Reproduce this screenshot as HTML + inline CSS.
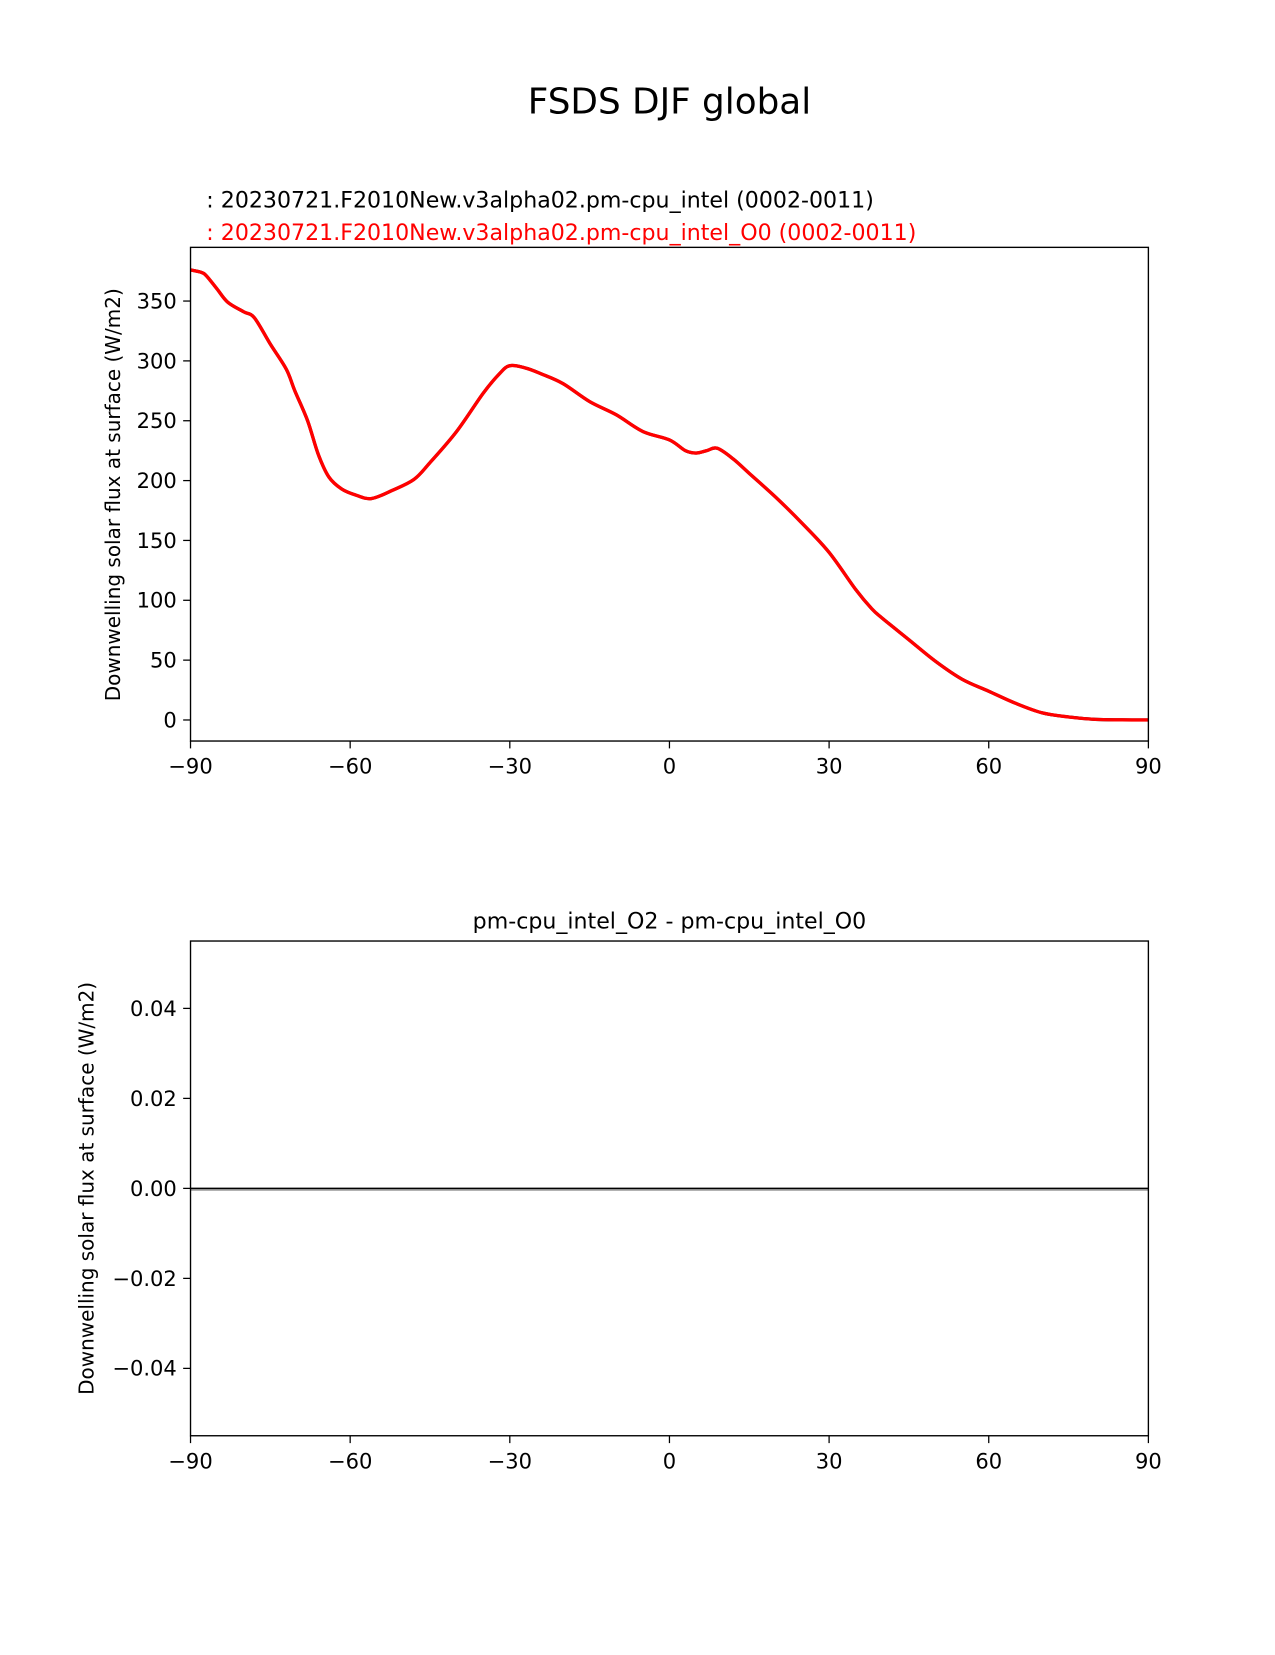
<!DOCTYPE html>
<html><head><meta charset="utf-8"><style>
body{margin:0;background:#fff}
svg text{font-family:"DejaVu Sans","Liberation Sans",sans-serif}
</style></head><body>
<svg id="fig" width="1275" height="1650" viewBox="0 0 1275 1650" xmlns="http://www.w3.org/2000/svg">
<rect width="1275" height="1650" fill="#fff"/>
<g transform="scale(1.0526)">
<text x="636" y="108" font-size="34" text-anchor="middle">FSDS DJF global</text>
<text x="196" y="197" font-size="21">: 20230721.F2010New.v3alpha02.pm-cpu_intel (0002-0011)</text>
<text x="196" y="228" font-size="21" fill="#ff0000">: 20230721.F2010New.v3alpha02.pm-cpu_intel_O0 (0002-0011)</text>
<text x="636" y="882" font-size="21" text-anchor="middle">pm-cpu_intel_O2 - pm-cpu_intel_O0</text>
<text transform="translate(114,470) rotate(-90)" font-size="19" text-anchor="middle">Downwelling solar flux at surface (W/m2)</text>
<text transform="translate(89,1129) rotate(-90)" font-size="19" text-anchor="middle">Downwelling solar flux at surface (W/m2)</text>
<g id="top"></g>
<g id="bot"></g>
</g>
</svg>
<script>
const lats=[-90,-88,-87,-85,-83,-80,-78,-75,-72,-70.4,-68,-66,-64,-61.6,-59,-56,-52,-48,-45,-40,-35,-32,-30,-27,-24,-20,-15,-10,-5,0,3,5,7,9,12,15,20,25,30,35,38,40,45,50,55,60,65,70,75,80,85,90];
const fsds=[376,374,371,360,349,341,336,314,293,275,250,222,203,193,188,185,192,201,215,241,273,289,296,294,289,281,266,255,241,234,225,223,225,227,218,206,186,164,140,109,93,85,67,49,34,24,14,6,2.5,0.5,0.1,0];
const diff=lats.map(()=>0);
const xTicks=[-90,-60,-30,0,30,60,90];
const yTicksTop=[0,50,100,150,200,250,300,350];
const yTicksBot=[-0.04,-0.02,0,0.02,0.04];
const NS="http://www.w3.org/2000/svg";
function mk(p,t,a){const e=document.createElementNS(NS,t);for(const k in a)e.setAttribute(k,a[k]);p.appendChild(e);return e;}
const xs=v=>181+(v+90)/180*910;
function smooth(pts){
  let d='M'+pts[0][0]+','+pts[0][1];
  for(let i=0;i<pts.length-1;i++){
    const p0=pts[Math.max(i-1,0)],p1=pts[i],p2=pts[i+1],p3=pts[Math.min(i+2,pts.length-1)];
    const c1=[p1[0]+(p2[0]-p0[0])/6,p1[1]+(p2[1]-p0[1])/6];
    const c2=[p2[0]-(p3[0]-p1[0])/6,p2[1]-(p3[1]-p1[1])/6];
    d+=' C'+c1+' '+c2+' '+p2;
  }
  return d;
}
function axes(g,top,bot,ys,yt,fmt){
  xTicks.forEach(v=>{
    mk(g,'line',{x1:xs(v),x2:xs(v),y1:bot,y2:bot+7,stroke:'#000','stroke-width':1.2});
    const t=mk(g,'text',{x:xs(v),y:bot+31,'font-size':20,'text-anchor':'middle'});
    t.textContent=(v<0?'\u2212'+(-v):v);
    
    
  });
  yt.forEach(v=>{
    const y=ys(v);
    mk(g,'line',{x1:174,x2:181,y1:y,y2:y,stroke:'#000','stroke-width':1.2});
    const t=mk(g,'text',{x:168,y:y+7,'font-size':20,'text-anchor':'end'});
    t.textContent=fmt(v);
    
    
  });
}
const gt=document.getElementById('top');
const yT=v=>684-v*398/350;
axes(gt,235,704,yT,yTicksTop,v=>String(v));
const pts=lats.map((l,i)=>[xs(l),yT(fsds[i])]);
const line=mk(gt,'path',{d:smooth(pts),fill:'none',stroke:'#000','stroke-width':3});


const line2=mk(gt,'path',{d:smooth(pts),fill:'none',stroke:'#ff0000','stroke-width':3.2});


mk(gt,'rect',{x:181,y:235,width:910,height:469,fill:'none',stroke:'#000','stroke-width':1.3});
const gb=document.getElementById('bot');
const yB=v=>1129-v*171/0.04;
axes(gb,894,1364,yB,yTicksBot,v=>v===0?'0.00':(v<0?'\u2212'+(-v).toFixed(2):v.toFixed(2)));
mk(gb,'line',{x1:181,x2:1091,y1:yB(0)+1.5,y2:yB(0)+1.5,stroke:'#999','stroke-width':1.5});
const dl=mk(gb,'polyline',{points:lats.map((l,i)=>xs(l)+','+yB(diff[i])).join(' '),fill:'none',stroke:'#000','stroke-width':1.5});


mk(gb,'rect',{x:181,y:894,width:910,height:470,fill:'none',stroke:'#000','stroke-width':1.3});
</script>
</body></html>
